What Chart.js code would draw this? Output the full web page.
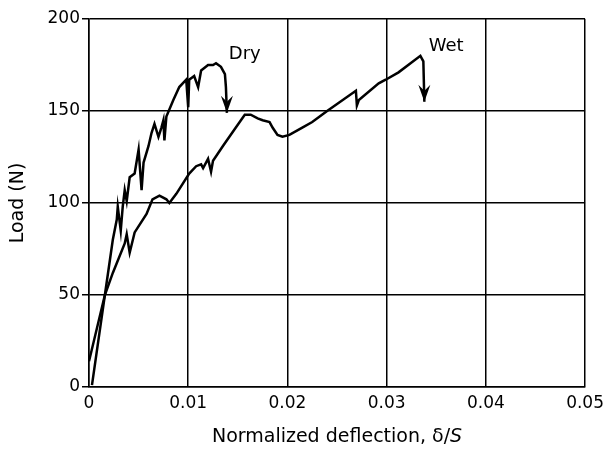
<!DOCTYPE html>
<html>
<head>
<meta charset="utf-8">
<script src="https://cdn.jsdelivr.net/npm/chart.js@4"></script>
<style>
  html, body { margin: 0; padding: 0; background: #fff; }
  canvas { display: block; }
</style>
</head>
<body>
<canvas id="chart" width="610" height="450"></canvas>
<script>
// Normalized deflection (δ/S) and load (N)
const dryX = [0.0003, 0.0016, 0.0024, 0.0028, 0.0029, 0.0032, 0.0034, 0.0036, 0.0038, 0.0041,
    0.0046, 0.0050, 0.0053, 0.0055, 0.0060, 0.0063, 0.0066, 0.0070, 0.0073, 0.0075,
    0.0076, 0.0078, 0.0085, 0.0091, 0.0098, 0.0100, 0.0101, 0.0106, 0.0110, 0.0113,
    0.0120, 0.0125, 0.0128, 0.0133, 0.0137, 0.0138, 0.0139];
const dryLoad = [1, 50, 80, 91, 98, 85, 98, 107, 101, 114,
    116, 129, 107, 122, 131, 138, 143, 136, 141, 145,
    134, 147, 156, 163, 167, 152, 167, 169, 163, 172,
    175, 175, 176, 174, 170, 163, 149];

const wetX = [0, 0.0016, 0.0024, 0.0036, 0.0038, 0.0041, 0.0046, 0.0058, 0.0064, 0.0071,
    0.0078, 0.0081, 0.0088, 0.0101, 0.0108, 0.0113, 0.0115, 0.0120, 0.0123, 0.0125,
    0.0135, 0.0148, 0.0157, 0.0163, 0.0170, 0.0175, 0.0182, 0.0185, 0.0190, 0.0195,
    0.0202, 0.0215, 0.0225, 0.0240, 0.0269, 0.0270, 0.0272, 0.0292, 0.0299, 0.0312,
    0.0334, 0.0337, 0.0338];
const wetLoad = [14, 50, 62, 78, 83, 73, 84, 94, 102, 104,
    102, 100, 105, 116, 120, 121, 119, 124, 117, 123,
    131, 141, 148, 148, 146, 145, 144, 141, 137, 136,
    137, 141, 144, 150, 161, 153, 156, 165, 167, 171,
    180, 177, 155];

const xTicks = [0, 0.01, 0.02, 0.03, 0.04, 0.05];
const yTicks = [0, 50, 100, 150, 200];

// failure arrows (tip of each curve) and curve labels
const arrowX = [0.0139, 0.0338];
const arrowTip = [149, 155];
const labelText = ['Dry', 'Wet'];
const labelX = [0.0157, 0.0360];
const labelY = [181, 185];

const FONT = 'DejaVu Sans';

const toPoints = (xs, ys) => xs.map((v, i) => ({ x: v, y: ys[i] }));

const annotate = {
    id: 'annotate',
    afterDatasetsDraw(chart) {
        const { ctx, scales: { x, y }, chartArea } = chart;
        ctx.save();
        ctx.fillStyle = '#000';

        // arrowheads
        arrowX.forEach((v, i) => {
            const px = x.getPixelForValue(v);
            const py = y.getPixelForValue(arrowTip[i]);
            ctx.beginPath();
            ctx.moveTo(px, py);
            ctx.lineTo(px - 6, py - 17);
            ctx.lineTo(px, py - 11);
            ctx.lineTo(px + 6, py - 17);
            ctx.closePath();
            ctx.fill();
        });

        // curve labels
        ctx.font = `18px "${FONT}"`;
        ctx.textAlign = 'center';
        ctx.textBaseline = 'middle';
        labelText.forEach((t, i) => {
            ctx.fillText(t, x.getPixelForValue(labelX[i]), y.getPixelForValue(labelY[i]));
        });

        // x axis title, with italic S
        const part1 = 'Normalized deflection, δ/';
        const part2 = 'S';
        ctx.font = `19px "${FONT}"`;
        const w1 = ctx.measureText(part1).width;
        ctx.font = `italic 19px "${FONT}"`;
        const w2 = ctx.measureText(part2).width;
        const cx = (chartArea.left + chartArea.right) / 2;
        let sx = cx - (w1 + w2) / 2;
        ctx.textAlign = 'left';
        ctx.font = `19px "${FONT}"`;
        ctx.fillText(part1, sx, 437);
        ctx.font = `italic 19px "${FONT}"`;
        ctx.fillText(part2, sx + w1, 437);
        ctx.restore();
    }
};

new Chart(document.getElementById('chart').getContext('2d'), {
    type: 'scatter',
    data: {
        datasets: [
            {
                label: 'Dry',
                data: toPoints(dryX, dryLoad),
                showLine: true,
                borderColor: '#000',
                borderWidth: 2.5,
                pointRadius: 0,
                tension: 0
            },
            {
                label: 'Wet',
                data: toPoints(wetX, wetLoad),
                showLine: true,
                borderColor: '#000',
                borderWidth: 2.5,
                pointRadius: 0,
                tension: 0
            }
        ]
    },
    options: {
        responsive: false,
        animation: false,
        layout: { padding: { top: 19, right: 23, left: 0, bottom: 0 } },
        plugins: { legend: { display: false }, tooltip: { enabled: false } },
        scales: {
            x: {
                type: 'linear',
                min: 0,
                max: 0.05,
                afterBuildTicks: s => { s.ticks = xTicks.map(v => ({ value: v })); },
                afterFit: s => { s.height = 63; },
                grid: { color: '#000', lineWidth: 1.5, drawTicks: false },
                border: { color: '#000', width: 1.5 },
                ticks: {
                    color: '#000',
                    font: { family: FONT, size: 17 },
                    padding: 6,
                    maxRotation: 0,
                    callback: v => (v === 0 ? '0' : v.toFixed(2))
                },
                title: { display: false }
            },
            y: {
                min: 0,
                max: 200,
                afterBuildTicks: s => { s.ticks = yTicks.map(v => ({ value: v })); },
                afterFit: s => { s.width = 89; },
                grid: { color: '#000', lineWidth: 1.5, tickLength: 7 },
                border: { color: '#000', width: 1.5 },
                ticks: {
                    color: '#000',
                    font: { family: FONT, size: 17 },
                    padding: 2
                },
                title: {
                    display: true,
                    text: 'Load (N)',
                    color: '#000',
                    font: { family: FONT, size: 19 },
                    padding: { top: 7, bottom: 0 }
                }
            }
        }
    },
    plugins: [annotate]
});
</script>
</body>
</html>
